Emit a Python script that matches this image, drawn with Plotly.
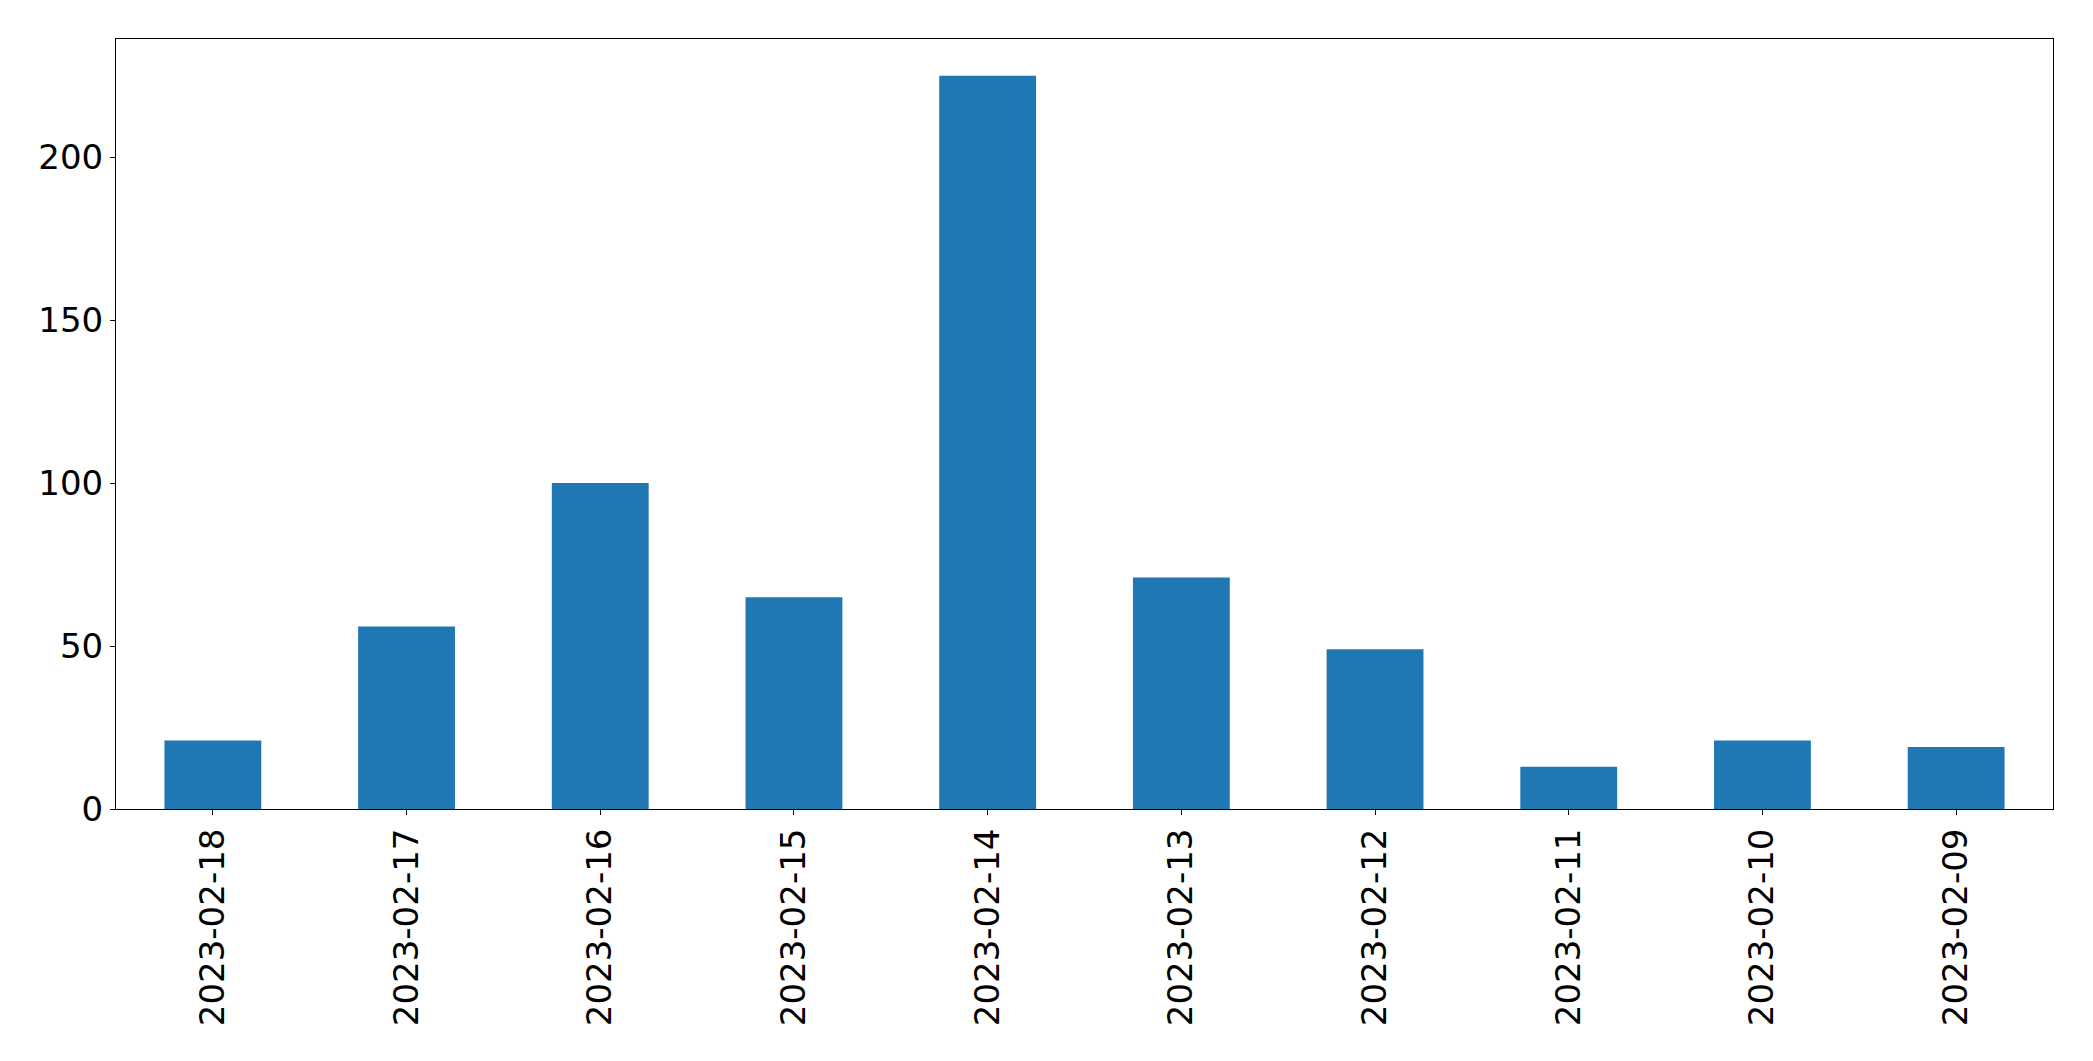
import plotly.graph_objects as go

dates = ["2023-02-18", "2023-02-17", "2023-02-16", "2023-02-15", "2023-02-14",
         "2023-02-13", "2023-02-12", "2023-02-11", "2023-02-10", "2023-02-09"]
counts = [21, 56, 100, 65, 225, 71, 49, 13, 21, 19]
y_ticks = [0, 50, 100, 150, 200]

fig = go.Figure(go.Bar(x=dates, y=counts, width=0.5, marker=dict(color="#1f77b4", line=dict(width=0))))

font = dict(family="DejaVu Sans", size=34, color="black")
fig.update_layout(
    width=2093, height=1061,
    margin=dict(l=108, r=48, t=31, b=260),
    paper_bgcolor="white", plot_bgcolor="white",
    showlegend=False,
    bargap=0.5,
)
fig.update_xaxes(
    type="category", range=[-0.5, len(dates) - 0.5],
    tickangle=-90, tickfont=font,
    showline=True, linecolor="black", linewidth=1, mirror=True,
    ticks="outside", ticklen=5, tickcolor="black", tickwidth=1,
    showgrid=False, zeroline=False,
)
fig.update_yaxes(
    range=[0, max(counts) * 1.05], tickvals=y_ticks, tickfont=font,
    showline=True, linecolor="black", linewidth=1, mirror=True,
    ticks="outside", ticklen=5, tickcolor="black", tickwidth=1,
    showgrid=False, zeroline=False,
)
fig.write_html("out.html")
